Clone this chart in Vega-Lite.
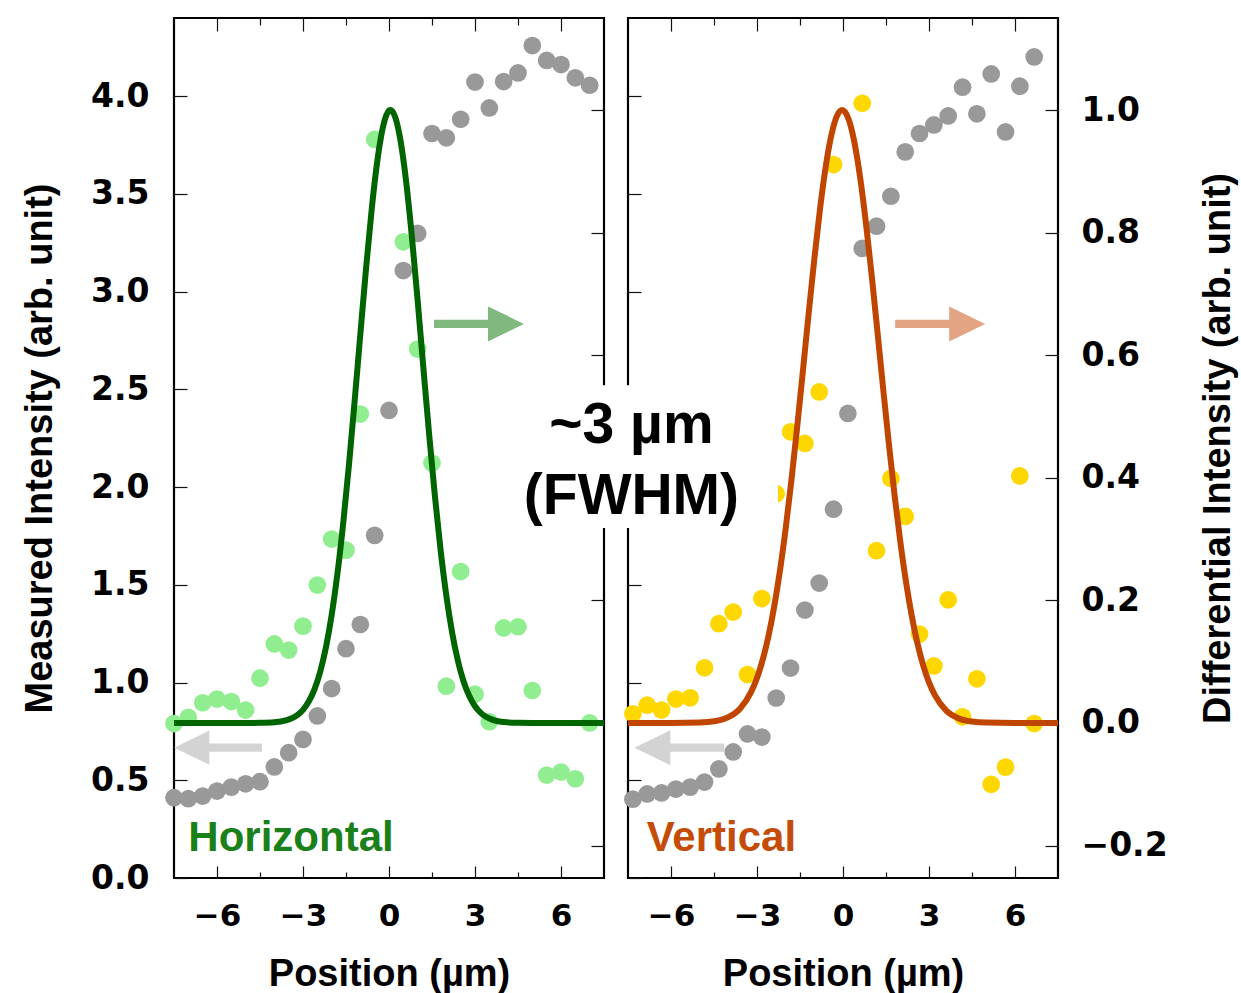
{
  "$schema": "https://vega.github.io/schema/vega-lite/v6.json",
  "background": "white",
  "padding": {"left": 20, "top": 16, "right": 0, "bottom": 0},
  "spacing": 24,
  "bounds": "flush",
  "datasets": {
    "horizontalMeasured": [
      {"position": -7.5, "measured": 0.411}, {"position": -7.0, "measured": 0.406}, {"position": -6.5, "measured": 0.419},
      {"position": -6.0, "measured": 0.445}, {"position": -5.5, "measured": 0.465}, {"position": -5.0, "measured": 0.482},
      {"position": -4.5, "measured": 0.493}, {"position": -4.0, "measured": 0.568}, {"position": -3.5, "measured": 0.641},
      {"position": -3.0, "measured": 0.709}, {"position": -2.5, "measured": 0.829}, {"position": -2.0, "measured": 0.969},
      {"position": -1.5, "measured": 1.173}, {"position": -1.0, "measured": 1.297}, {"position": -0.5, "measured": 1.753},
      {"position": 0.0, "measured": 2.392}, {"position": 0.5, "measured": 3.108}, {"position": 1.0, "measured": 3.298},
      {"position": 1.5, "measured": 3.809}, {"position": 2.0, "measured": 3.787}, {"position": 2.5, "measured": 3.882},
      {"position": 3.0, "measured": 4.072}, {"position": 3.5, "measured": 3.94}, {"position": 4.0, "measured": 4.075},
      {"position": 4.5, "measured": 4.119}, {"position": 5.0, "measured": 4.259}, {"position": 5.5, "measured": 4.183},
      {"position": 6.0, "measured": 4.162}, {"position": 6.5, "measured": 4.094}, {"position": 7.0, "measured": 4.056}
    ],
    "horizontalDifferential": [
      {"position": -7.5, "differential": -0.001}, {"position": -7.0, "differential": 0.009}, {"position": -6.5, "differential": 0.033},
      {"position": -6.0, "differential": 0.039}, {"position": -5.5, "differential": 0.035}, {"position": -5.0, "differential": 0.021},
      {"position": -4.5, "differential": 0.073}, {"position": -4.0, "differential": 0.129}, {"position": -3.5, "differential": 0.119},
      {"position": -3.0, "differential": 0.158}, {"position": -2.5, "differential": 0.225}, {"position": -2.0, "differential": 0.3},
      {"position": -1.5, "differential": 0.282}, {"position": -1.0, "differential": 0.504}, {"position": -0.5, "differential": 0.952},
      {"position": 0.5, "differential": 0.785}, {"position": 1.0, "differential": 0.61}, {"position": 1.5, "differential": 0.424},
      {"position": 2.0, "differential": 0.06}, {"position": 2.5, "differential": 0.247}, {"position": 3.0, "differential": 0.047},
      {"position": 3.5, "differential": 0.002}, {"position": 4.0, "differential": 0.155}, {"position": 4.5, "differential": 0.157},
      {"position": 5.0, "differential": 0.053}, {"position": 5.5, "differential": -0.085}, {"position": 6.0, "differential": -0.08},
      {"position": 6.5, "differential": -0.091}, {"position": 7.0, "differential": 0.0}
    ],
    "horizontalFit": [
      {"position": -7.5, "fit": 0}, {"position": -6.0, "fit": 0}, {"position": -5.0, "fit": 0}, {"position": -4.5, "fit": 0.0002},
      {"position": -4.0, "fit": 0.0011}, {"position": -3.6, "fit": 0.0041}, {"position": -3.2, "fit": 0.0127}, {"position": -3.0, "fit": 0.0214},
      {"position": -2.8, "fit": 0.0349}, {"position": -2.6, "fit": 0.0549}, {"position": -2.4, "fit": 0.0837}, {"position": -2.2, "fit": 0.1234},
      {"position": -2.0, "fit": 0.1761}, {"position": -1.8, "fit": 0.2431}, {"position": -1.6, "fit": 0.3247}, {"position": -1.4, "fit": 0.4195},
      {"position": -1.2, "fit": 0.5243}, {"position": -1.0, "fit": 0.6341}, {"position": -0.8, "fit": 0.7419}, {"position": -0.6, "fit": 0.8398},
      {"position": -0.4, "fit": 0.9197}, {"position": -0.2, "fit": 0.9745}, {"position": 0.0, "fit": 0.999}, {"position": 0.05, "fit": 1.0},
      {"position": 0.2, "fit": 0.9907}, {"position": 0.4, "fit": 0.9506}, {"position": 0.6, "fit": 0.8825}, {"position": 0.8, "fit": 0.7926},
      {"position": 1.0, "fit": 0.6887}, {"position": 1.2, "fit": 0.579}, {"position": 1.4, "fit": 0.4709}, {"position": 1.6, "fit": 0.3706},
      {"position": 1.8, "fit": 0.2821}, {"position": 2.0, "fit": 0.2078}, {"position": 2.2, "fit": 0.1481}, {"position": 2.4, "fit": 0.1021},
      {"position": 2.6, "fit": 0.0681}, {"position": 2.8, "fit": 0.0439}, {"position": 3.0, "fit": 0.0274}, {"position": 3.2, "fit": 0.0166},
      {"position": 3.6, "fit": 0.0055}, {"position": 4.0, "fit": 0.0016}, {"position": 4.5, "fit": 0.0002}, {"position": 5.0, "fit": 0},
      {"position": 6.0, "fit": 0}, {"position": 7.5, "fit": 0}
    ],
    "verticalMeasured": [
      {"position": -7.33, "measured": 0.403}, {"position": -6.83, "measured": 0.43}, {"position": -6.33, "measured": 0.435},
      {"position": -5.83, "measured": 0.455}, {"position": -5.33, "measured": 0.465}, {"position": -4.83, "measured": 0.491},
      {"position": -4.33, "measured": 0.558}, {"position": -3.83, "measured": 0.645}, {"position": -3.33, "measured": 0.737},
      {"position": -2.83, "measured": 0.721}, {"position": -2.33, "measured": 0.921}, {"position": -1.83, "measured": 1.074},
      {"position": -1.33, "measured": 1.371}, {"position": -0.83, "measured": 1.509}, {"position": -0.33, "measured": 1.887},
      {"position": 0.17, "measured": 2.377}, {"position": 0.67, "measured": 3.221}, {"position": 1.17, "measured": 3.335},
      {"position": 1.67, "measured": 3.488}, {"position": 2.17, "measured": 3.715}, {"position": 2.67, "measured": 3.809},
      {"position": 3.17, "measured": 3.853}, {"position": 3.67, "measured": 3.899}, {"position": 4.17, "measured": 4.046},
      {"position": 4.67, "measured": 3.91}, {"position": 5.17, "measured": 4.114}, {"position": 5.67, "measured": 3.817},
      {"position": 6.17, "measured": 4.051}, {"position": 6.67, "measured": 4.201}
    ],
    "verticalDifferential": [
      {"position": -7.33, "differential": 0.015}, {"position": -6.83, "differential": 0.029}, {"position": -6.33, "differential": 0.021},
      {"position": -5.83, "differential": 0.039}, {"position": -5.33, "differential": 0.041}, {"position": -4.83, "differential": 0.09},
      {"position": -4.33, "differential": 0.162}, {"position": -3.83, "differential": 0.181}, {"position": -3.33, "differential": 0.079},
      {"position": -2.83, "differential": 0.203}, {"position": -2.33, "differential": 0.374}, {"position": -1.83, "differential": 0.475},
      {"position": -1.33, "differential": 0.456}, {"position": -0.83, "differential": 0.54}, {"position": -0.33, "differential": 0.911},
      {"position": 0.67, "differential": 1.011}, {"position": 1.17, "differential": 0.281}, {"position": 1.67, "differential": 0.399},
      {"position": 2.17, "differential": 0.337}, {"position": 2.67, "differential": 0.145}, {"position": 3.17, "differential": 0.093},
      {"position": 3.67, "differential": 0.201}, {"position": 4.17, "differential": 0.01}, {"position": 4.67, "differential": 0.072},
      {"position": 5.17, "differential": -0.1}, {"position": 5.67, "differential": -0.072}, {"position": 6.17, "differential": 0.403},
      {"position": 6.67, "differential": -0.001}
    ],
    "verticalFit": [
      {"position": -7.5, "fit": 0}, {"position": -6.0, "fit": 0}, {"position": -5.0, "fit": 0.0007}, {"position": -4.5, "fit": 0.0027},
      {"position": -4.0, "fit": 0.0094}, {"position": -3.6, "fit": 0.023}, {"position": -3.2, "fit": 0.0512}, {"position": -3.0, "fit": 0.0735},
      {"position": -2.8, "fit": 0.1033}, {"position": -2.6, "fit": 0.1417}, {"position": -2.4, "fit": 0.1898}, {"position": -2.2, "fit": 0.2483},
      {"position": -2.0, "fit": 0.3172}, {"position": -1.8, "fit": 0.3958}, {"position": -1.6, "fit": 0.4822}, {"position": -1.4, "fit": 0.5739},
      {"position": -1.2, "fit": 0.667}, {"position": -1.0, "fit": 0.757}, {"position": -0.8, "fit": 0.8391}, {"position": -0.6, "fit": 0.9084},
      {"position": -0.4, "fit": 0.9603}, {"position": -0.2, "fit": 0.9915}, {"position": -0.03, "fit": 1.0}, {"position": 0.2, "fit": 0.9845},
      {"position": 0.4, "fit": 0.9468}, {"position": 0.6, "fit": 0.8892}, {"position": 0.8, "fit": 0.8156}, {"position": 1.0, "fit": 0.7306},
      {"position": 1.2, "fit": 0.6392}, {"position": 1.4, "fit": 0.5461}, {"position": 1.6, "fit": 0.4556}, {"position": 1.8, "fit": 0.3713},
      {"position": 2.0, "fit": 0.2955}, {"position": 2.2, "fit": 0.2296}, {"position": 2.4, "fit": 0.1743}, {"position": 2.6, "fit": 0.1292},
      {"position": 2.8, "fit": 0.0935}, {"position": 3.0, "fit": 0.0661}, {"position": 3.2, "fit": 0.0457}, {"position": 3.6, "fit": 0.0203},
      {"position": 4.0, "fit": 0.0082}, {"position": 4.5, "fit": 0.0023}, {"position": 5.0, "fit": 0.0006}, {"position": 6.0, "fit": 0},
      {"position": 7.5, "fit": 0}
    ]
  },
  "hconcat": [
    {
      "width": 430,
      "height": 860,
      "resolve": {"scale": {"y": "independent"}, "axis": {"x": "independent", "y": "independent"}},
      "layer": [
        {
          "data": {"name": "horizontalMeasured"},
          "mark": {"type": "point", "filled": true, "size": 314, "color": "#999999", "opacity": 1, "strokeWidth": 0},
          "encoding": {
            "x": {"field": "position", "type": "quantitative", "scale": {"domain": [-7.5, 7.5], "nice": false, "zero": false},
                  "axis": {"orient": "bottom", "values": [-6, -3, 0, 3, 6], "tickSize": -12, "labelPadding": 35, "labelFontSize": 31, "title": "Position (µm)", "titlePadding": 24}},
            "y": {"field": "measured", "type": "quantitative", "scale": {"domain": [0, 4.4], "nice": false, "zero": false},
                  "axis": {"orient": "left", "values": [0, 0.5, 1, 1.5, 2, 2.5, 3, 3.5, 4], "format": ".1f", "tickSize": -13, "labelPadding": 38, "labelFontSize": 33, "title": "Measured Intensity (arb. unit)", "titlePadding": 31}}
          }
        },
        {
          "data": {"name": "horizontalDifferential"},
          "mark": {"type": "point", "filled": true, "size": 314, "color": "#90ee90", "opacity": 1, "strokeWidth": 0},
          "encoding": {
            "x": {"field": "position", "type": "quantitative", "scale": {"domain": [-7.5, 7.5], "nice": false, "zero": false},
                  "axis": {"orient": "top", "values": [-6, -3, 0, 3, 6], "tickSize": -13, "labels": false, "title": null}},
            "y": {"field": "differential", "type": "quantitative", "scale": {"domain": [-0.2529, 1.1501], "nice": false, "zero": false},
                  "axis": {"orient": "right", "values": [-0.2, 0, 0.2, 0.4, 0.6, 0.8, 1.0], "tickSize": -13, "labels": false, "title": null}}
          }
        },
        {
          "data": {"name": "horizontalFit"},
          "mark": {"type": "line", "color": "#006400", "strokeWidth": 6, "interpolate": "monotone"},
          "encoding": {
            "x": {"field": "position", "type": "quantitative", "scale": {"domain": [-7.5, 7.5], "nice": false, "zero": false},
                  "axis": {"orient": "bottom", "values": [-4.5, -1.5, 1.5, 4.5], "tickSize": -6, "labels": false, "title": null}},
            "y": {"field": "fit", "type": "quantitative", "scale": {"domain": [-0.2529, 1.1501], "nice": false, "zero": false}, "axis": null}
          }
        },
        {
          "data": {"values": [{"position": 3.14, "differential": 0.651}]},
          "mark": {"type": "point", "shape": "M-1,-0.093L0.2,-0.093L0.2,-0.389L1,0L0.2,0.389L0.2,0.093L-1,0.093Z", "filled": true, "size": 8100, "color": "#80b880", "opacity": 1, "strokeWidth": 0},
          "encoding": {
            "x": {"field": "position", "type": "quantitative", "scale": {"domain": [-7.5, 7.5], "nice": false, "zero": false},
                  "axis": {"orient": "top", "values": [-4.5, -1.5, 1.5, 4.5], "tickSize": -7, "labels": false, "title": null}},
            "y": {"field": "differential", "type": "quantitative", "scale": {"domain": [-0.2529, 1.1501], "nice": false, "zero": false}, "axis": null}
          }
        },
        {
          "data": {"values": [{"position": -5.96, "measured": 0.667}]},
          "mark": {"type": "point", "shape": "M1,-0.093L-0.2,-0.093L-0.2,-0.389L-1,0L-0.2,0.389L-0.2,0.093L1,0.093Z", "filled": true, "size": 7744, "color": "#d3d3d3", "opacity": 1, "strokeWidth": 0},
          "encoding": {
            "x": {"field": "position", "type": "quantitative", "scale": {"domain": [-7.5, 7.5], "nice": false, "zero": false}, "axis": null},
            "y": {"field": "measured", "type": "quantitative", "scale": {"domain": [0, 4.4], "nice": false, "zero": false}, "axis": null}
          }
        },
        {
          "data": {"values": [{"position": -7.0, "measured": 0.138, "label": "Horizontal"}]},
          "mark": {"type": "text", "align": "left", "baseline": "alphabetic", "font": "Liberation Sans", "fontWeight": "bold", "fontSize": 42, "color": "#1a801a"},
          "encoding": {
            "x": {"field": "position", "type": "quantitative", "scale": {"domain": [-7.5, 7.5], "nice": false, "zero": false}, "axis": null},
            "y": {"field": "measured", "type": "quantitative", "scale": {"domain": [0, 4.4], "nice": false, "zero": false}, "axis": null},
            "text": {"field": "label"}
          }
        }
      ]
    },
    {
      "width": 430,
      "height": 860,
      "resolve": {"scale": {"y": "independent"}, "axis": {"x": "independent", "y": "independent"}},
      "layer": [
        {
          "data": {"name": "verticalMeasured"},
          "mark": {"type": "point", "filled": true, "size": 314, "color": "#999999", "opacity": 1, "strokeWidth": 0},
          "encoding": {
            "x": {"field": "position", "type": "quantitative", "scale": {"domain": [-7.5, 7.5], "nice": false, "zero": false},
                  "axis": {"orient": "bottom", "values": [-6, -3, 0, 3, 6], "tickSize": -12, "labelPadding": 35, "labelFontSize": 31, "title": "Position (µm)", "titlePadding": 24}},
            "y": {"field": "measured", "type": "quantitative", "scale": {"domain": [0, 4.4], "nice": false, "zero": false},
                  "axis": {"orient": "left", "values": [0, 0.5, 1, 1.5, 2, 2.5, 3, 3.5, 4], "tickSize": -13, "labels": false, "title": null}}
          }
        },
        {
          "data": {"name": "verticalDifferential"},
          "mark": {"type": "point", "filled": true, "size": 314, "color": "#ffd700", "opacity": 1, "strokeWidth": 0},
          "encoding": {
            "x": {"field": "position", "type": "quantitative", "scale": {"domain": [-7.5, 7.5], "nice": false, "zero": false},
                  "axis": {"orient": "top", "values": [-6, -3, 0, 3, 6], "tickSize": -13, "labels": false, "title": null}},
            "y": {"field": "differential", "type": "quantitative", "scale": {"domain": [-0.2529, 1.1501], "nice": false, "zero": false},
                  "axis": {"orient": "right", "values": [-0.2, 0, 0.2, 0.4, 0.6, 0.8, 1.0], "format": ".1f", "tickSize": -13, "labelPadding": 36, "labelFontSize": 33, "title": "Differential Intensity (arb. unit)", "titleAngle": 270, "titleBaseline": "top", "titlePadding": 32}}
          }
        },
        {
          "data": {"name": "verticalFit"},
          "mark": {"type": "line", "color": "#c04600", "strokeWidth": 6, "interpolate": "monotone"},
          "encoding": {
            "x": {"field": "position", "type": "quantitative", "scale": {"domain": [-7.5, 7.5], "nice": false, "zero": false},
                  "axis": {"orient": "bottom", "values": [-4.5, -1.5, 1.5, 4.5], "tickSize": -6, "labels": false, "title": null}},
            "y": {"field": "fit", "type": "quantitative", "scale": {"domain": [-0.2529, 1.1501], "nice": false, "zero": false}, "axis": null}
          }
        },
        {
          "data": {"values": [{"position": 3.39, "differential": 0.651}]},
          "mark": {"type": "point", "shape": "M-1,-0.093L0.2,-0.093L0.2,-0.389L1,0L0.2,0.389L0.2,0.093L-1,0.093Z", "filled": true, "size": 8100, "color": "#e4a383", "opacity": 1, "strokeWidth": 0},
          "encoding": {
            "x": {"field": "position", "type": "quantitative", "scale": {"domain": [-7.5, 7.5], "nice": false, "zero": false},
                  "axis": {"orient": "top", "values": [-4.5, -1.5, 1.5, 4.5], "tickSize": -7, "labels": false, "title": null}},
            "y": {"field": "differential", "type": "quantitative", "scale": {"domain": [-0.2529, 1.1501], "nice": false, "zero": false}, "axis": null}
          }
        },
        {
          "data": {"values": [{"position": -5.71, "measured": 0.667}]},
          "mark": {"type": "point", "shape": "M1,-0.093L-0.2,-0.093L-0.2,-0.389L-1,0L-0.2,0.389L-0.2,0.093L1,0.093Z", "filled": true, "size": 8100, "color": "#d3d3d3", "opacity": 1, "strokeWidth": 0},
          "encoding": {
            "x": {"field": "position", "type": "quantitative", "scale": {"domain": [-7.5, 7.5], "nice": false, "zero": false}, "axis": null},
            "y": {"field": "measured", "type": "quantitative", "scale": {"domain": [0, 4.4], "nice": false, "zero": false}, "axis": null}
          }
        },
        {
          "data": {"values": [{"position": -6.85, "measured": 0.138, "label": "Vertical"}]},
          "mark": {"type": "text", "align": "left", "baseline": "alphabetic", "font": "Liberation Sans", "fontWeight": "bold", "fontSize": 42, "color": "#c44c08"},
          "encoding": {
            "x": {"field": "position", "type": "quantitative", "scale": {"domain": [-7.5, 7.5], "nice": false, "zero": false}, "axis": null},
            "y": {"field": "measured", "type": "quantitative", "scale": {"domain": [0, 4.4], "nice": false, "zero": false}, "axis": null},
            "text": {"field": "label"}
          }
        },
        {
          "data": {"values": [{"position": -12.5, "position_end": -2.27, "differential": 0.318, "differential_end": 0.551}]},
          "mark": {"type": "rect", "color": "white", "opacity": 1, "strokeWidth": 0},
          "encoding": {
            "x": {"field": "position", "type": "quantitative", "scale": {"domain": [-7.5, 7.5], "nice": false, "zero": false}, "axis": null},
            "x2": {"field": "position_end"},
            "y": {"field": "differential", "type": "quantitative", "scale": {"domain": [-0.2529, 1.1501], "nice": false, "zero": false}, "axis": null},
            "y2": {"field": "differential_end"}
          }
        },
        {
          "data": {"values": [
            {"position": -7.38, "differential": 0.457, "note": "~3 µm"},
            {"position": -7.38, "differential": 0.3405, "note": "(FWHM)"}
          ]},
          "mark": {"type": "text", "align": "center", "baseline": "alphabetic", "font": "Liberation Sans", "fontWeight": "bold", "fontSize": 57, "color": "#000000"},
          "encoding": {
            "x": {"field": "position", "type": "quantitative", "scale": {"domain": [-7.5, 7.5], "nice": false, "zero": false}, "axis": null},
            "y": {"field": "differential", "type": "quantitative", "scale": {"domain": [-0.2529, 1.1501], "nice": false, "zero": false}, "axis": null},
            "text": {"field": "note"}
          }
        }
      ]
    }
  ],
  "config": {
    "view": {"stroke": "#000000", "strokeWidth": 2.2},
    "axis": {
      "domain": false,
      "grid": false,
      "zindex": 0,
      "tickColor": "#111111",
      "tickWidth": 1.2,
      "labelFont": "DejaVu Sans",
      "labelFontWeight": "bold",
      "labelColor": "#000000",
      "labelFlush": false,
      "labelOverlap": false,
      "labelBound": false,
      "titleFont": "Liberation Sans",
      "titleFontWeight": "bold",
      "titleFontSize": 38,
      "titleColor": "#000000"
    }
  }
}
